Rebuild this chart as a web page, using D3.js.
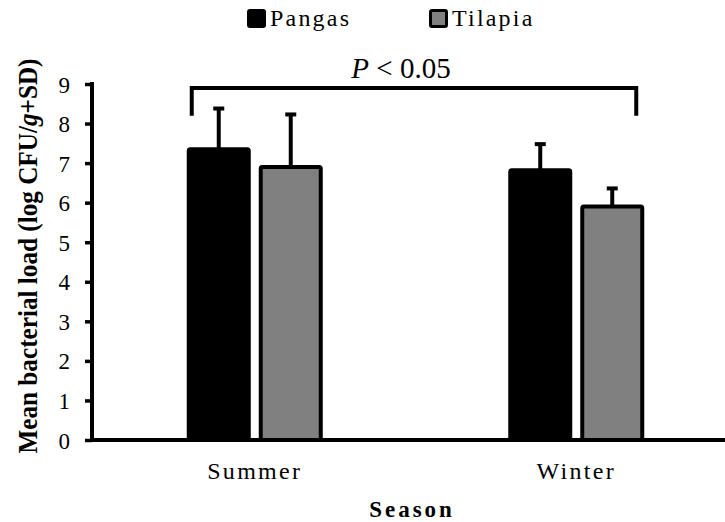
<!DOCTYPE html>
<html>
<head>
<meta charset="utf-8">
<script src="https://cdn.jsdelivr.net/npm/d3@7"></script>
<style>
  body { margin: 0; background: #fff; }
</style>
</head>
<body>
<div id="chart"></div>
<script>
// data
var seasons = ["Summer", "Winter"];
var fish = ["Pangas", "Tilapia"];
var pangasMean = [7.35, 6.82];
var pangasSD = [1.03, 0.66];
var tilapiaMean = [6.9, 5.9];
var tilapiaSD = [1.33, 0.46];
var yTicks = [0, 1, 2, 3, 4, 5, 6, 7, 8, 9];
var colors = {Pangas: "#000000", Tilapia: "#808080"};

var rows = [];
seasons.forEach(function(s, i) {
  rows.push({season: s, fish: "Pangas", mean: pangasMean[i], sd: pangasSD[i]});
  rows.push({season: s, fish: "Tilapia", mean: tilapiaMean[i], sd: tilapiaSD[i]});
});

var W = 725, H = 522;
var svg = d3.select("#chart").append("svg")
    .attr("width", W)
    .attr("height", H);

// scales
var x0 = d3.scaleBand().domain(seasons).range([94, 737]);
var x1 = d3.scaleBand().domain(fish).range([-68, 68]).paddingInner(8 / 72);
var y = d3.scaleLinear().domain([0, 9]).range([440, 84]);

// bars
svg.append("g").selectAll("rect")
    .data(rows)
    .enter().append("rect")
    .attr("x", function(d) { return x0(d.season) + x0.bandwidth() / 2 + x1(d.fish) + 2; })
    .attr("y", function(d) { return y(d.mean); })
    .attr("width", x1.bandwidth() - 4)
    .attr("height", function(d) { return y(0) - y(d.mean); })
    .attr("rx", 1.5)
    .attr("fill", function(d) { return colors[d.fish]; })
    .attr("stroke", "#000")
    .attr("stroke-width", 4);

// error bars (upper only)
var eb = svg.append("g").selectAll("g")
    .data(rows)
    .enter().append("g")
    .attr("transform", function(d) {
      return "translate(" + (x0(d.season) + x0.bandwidth() / 2 + x1(d.fish) + x1.bandwidth() / 2) + ",0)";
    });
eb.append("line")
    .attr("x1", 0).attr("x2", 0)
    .attr("y1", function(d) { return y(d.mean); })
    .attr("y2", function(d) { return y(d.mean + d.sd); })
    .attr("stroke", "#000").attr("stroke-width", 4);
eb.append("line")
    .attr("x1", -5.5).attr("x2", 5.5)
    .attr("y1", function(d) { return y(d.mean + d.sd); })
    .attr("y2", function(d) { return y(d.mean + d.sd); })
    .attr("stroke", "#000").attr("stroke-width", 4);

// y axis
var yAxis = svg.append("g")
    .attr("transform", "translate(92,0)")
    .call(d3.axisLeft(y).tickValues(yTicks).tickSize(7).tickSizeOuter(0).tickPadding(15));
yAxis.select(".domain").attr("stroke-width", 4).attr("d", "M0,82V442");
yAxis.selectAll(".tick line").attr("stroke-width", 3.5);
yAxis.selectAll("text")
    .style("font-size", "23px")
    .attr("dy", "0.35em");

// x axis
var xAxis = svg.append("g")
    .attr("transform", "translate(0,440)")
    .call(d3.axisBottom(x0).tickSize(0).tickPadding(22));
xAxis.select(".domain").attr("stroke-width", 4).attr("d", "M90,0H725");
xAxis.selectAll("text")
    .style("font-size", "24px")
    .style("letter-spacing", "2.3px");

// axis titles
svg.append("text")
    .attr("x", 412)
    .attr("y", 517)
    .attr("text-anchor", "middle")
    .style("font-size", "23px")
    .style("font-weight", "bold")
    .style("letter-spacing", "3px")
    .text("Season");

var yt = svg.append("text")
    .attr("transform", "translate(37,256) rotate(-90)")
    .attr("text-anchor", "middle")
    .attr("textLength", 395)
    .attr("lengthAdjust", "spacingAndGlyphs")
    .style("font-size", "28px")
    .style("font-weight", "bold");
yt.append("tspan").text("Mean bacterial load (log CFU/");
yt.append("tspan").style("font-style", "italic").text("g");
yt.append("tspan").text("+SD)");

// significance bracket
var bx1 = x0("Summer") + x0.bandwidth() / 2 - 63;
var bx2 = x0("Winter") + x0.bandwidth() / 2 + 60;
svg.append("path")
    .attr("d", "M" + bx1 + "," + y(8.2) + "V" + y(8.9) + "H" + bx2 + "V" + y(8.2))
    .attr("fill", "none")
    .attr("stroke", "#000")
    .attr("stroke-width", 4);
var pt = svg.append("text")
    .attr("x", 401)
    .attr("y", 78)
    .attr("text-anchor", "middle")
    .style("font-size", "29px");
pt.append("tspan").style("font-style", "italic").text("P");
pt.append("tspan").text(" < 0.05");

// legend
var leg = svg.append("g").selectAll("g")
    .data(fish)
    .enter().append("g")
    .attr("transform", function(d, i) { return "translate(" + (247 + i * 182) + ",9)"; });
leg.append("rect")
    .attr("x", 1.5).attr("y", 1.5)
    .attr("width", 16).attr("height", 16)
    .attr("rx", 1.5)
    .attr("fill", function(d) { return colors[d]; })
    .attr("stroke", "#000")
    .attr("stroke-width", 3);
leg.append("text")
    .attr("x", 23)
    .attr("y", 17)
    .style("font-size", "24px")
    .style("letter-spacing", "2.2px")
    .text(function(d) { return d; });

// serif everywhere
svg.selectAll("g").attr("font-family", null);
svg.selectAll("text")
    .style("font-family", "'Liberation Serif'")
    .attr("fill", "#000");
</script>
</body>
</html>
